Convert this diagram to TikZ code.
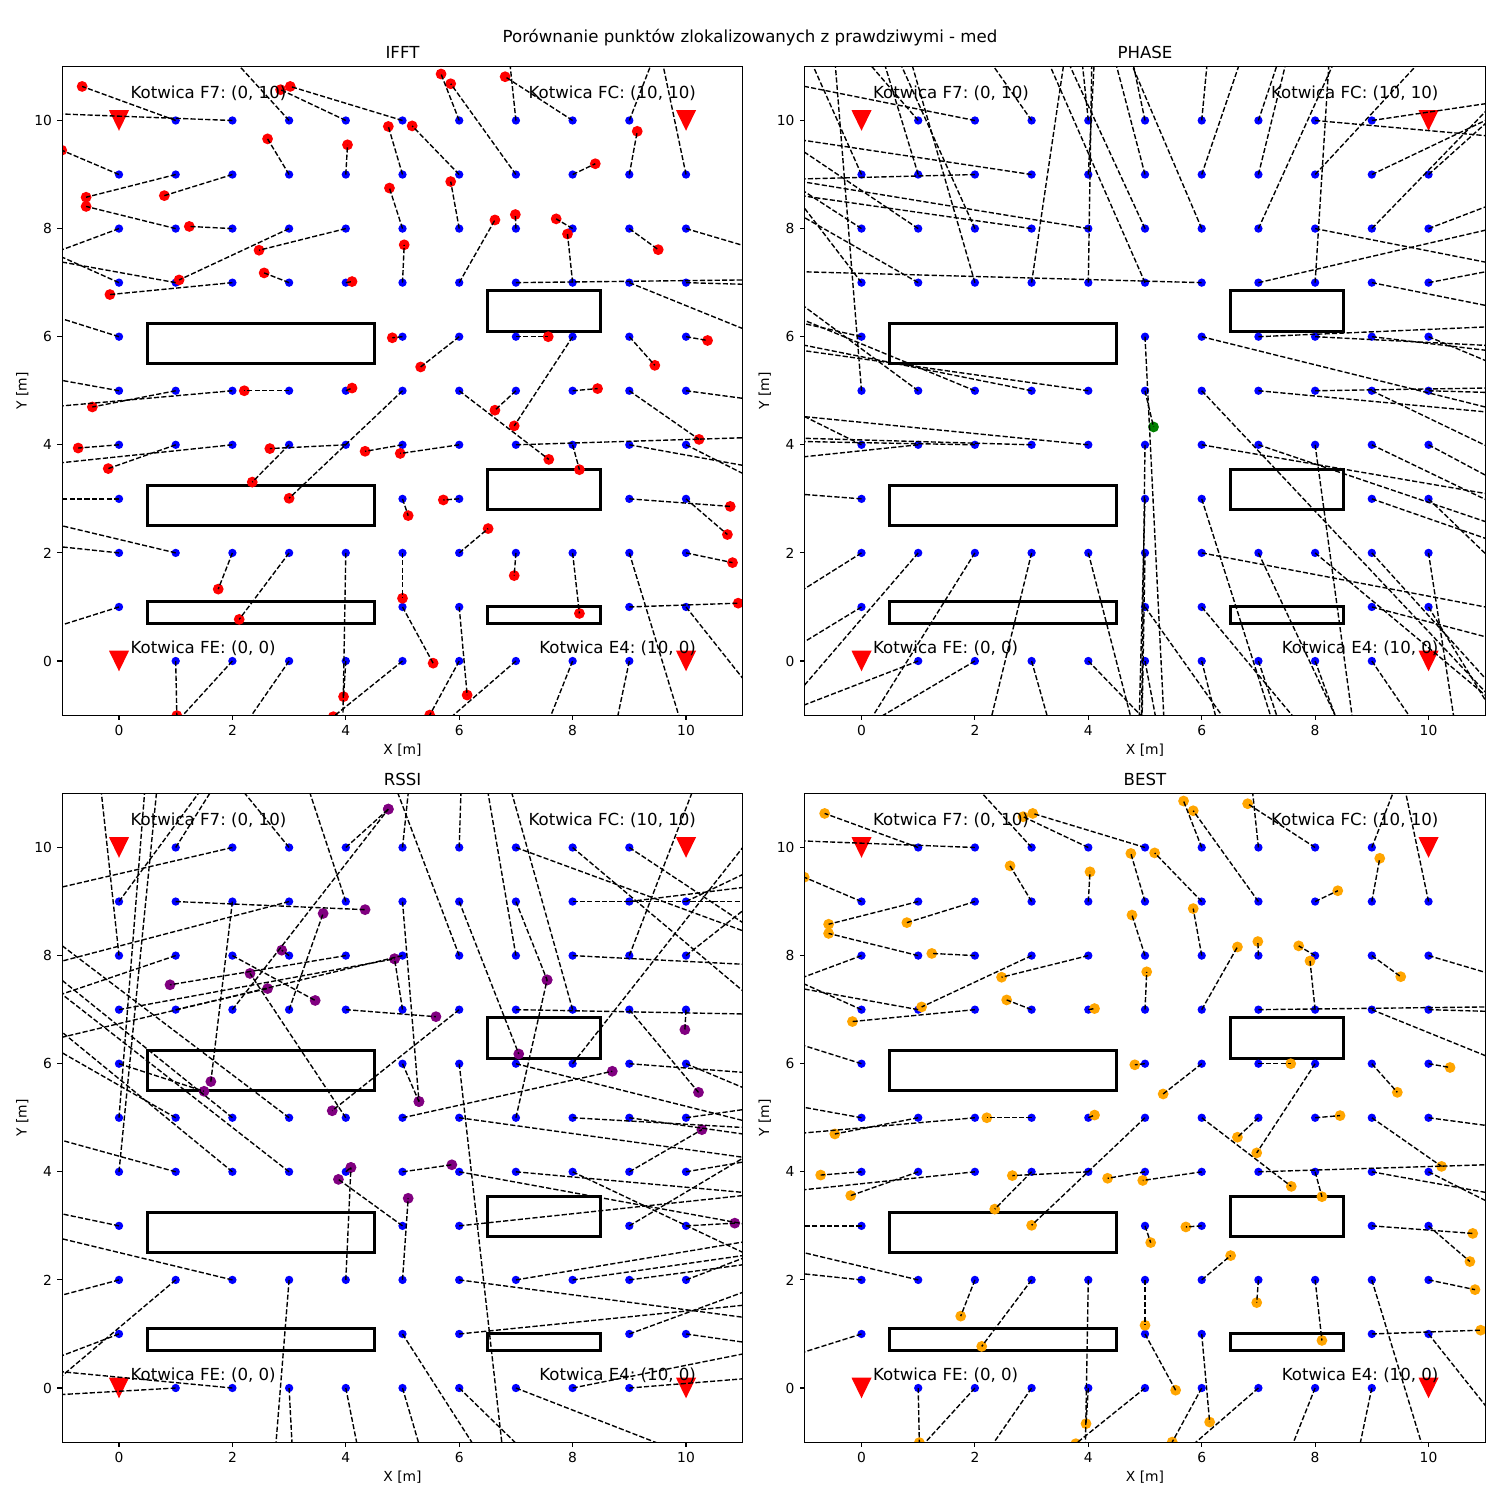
\documentclass[tikz,border=0pt]{standalone}
\usepackage{fontspec}
\setmainfont{DejaVu Sans}
\usepackage{xcolor}
\usepackage{tikz}
\usetikzlibrary{calc}
\frenchspacing

\definecolor{mplblue}{rgb}{0,0,1}
\definecolor{mplred}{rgb}{1,0,0}
\definecolor{mplgreen}{rgb}{0,0.5,0}
\definecolor{mplpurple}{rgb}{0.5,0,0.5}
\definecolor{mplorange}{rgb}{1,0.647,0}

%Data: true x / true y / estimated x / estimated y
\def\ifftin{1/10/-0.65/10.63, 4/10/2.85/10.57, 5/10/3.02/10.63, 6/10/5.68/10.86, 8/10/6.81/10.81,%
0/9/-1.01/9.45, 1/9/-0.58/8.58, 2/9/0.80/8.61, 3/9/2.62/9.66, 4/9/4.03/9.55, 5/9/4.75/9.89, 6/9/5.17/9.90, 7/9/5.85/10.68, 8/9/8.40/9.20, 9/9/9.14/9.80,%
1/8/-0.58/8.41, 2/8/1.24/8.04, 3/8/1.06/7.05, 4/8/2.47/7.60, 5/8/4.77/8.75, 6/8/5.85/8.87, 7/8/6.99/8.26, 8/8/7.71/8.18, 9/8/9.51/7.61,%
2/7/-0.16/6.78, 3/7/2.56/7.18, 4/7/4.11/7.02, 5/7/5.03/7.70, 6/7/6.63/8.16, 8/7/7.91/7.90,%
5/6/4.82/5.98, 6/6/5.32/5.44, 7/6/7.57/6.00, 8/6/6.97/4.35, 9/6/9.45/5.47, 10/6/10.38/5.93,%
1/5/-0.47/4.70, 3/5/2.21/5.00, 4/5/4.11/5.05, 5/5/3.00/3.01, 6/5/7.58/3.73, 7/5/6.63/4.64, 8/5/8.44/5.04, 9/5/10.23/4.10,%
0/4/-0.72/3.94, 1/4/-0.19/3.56, 3/4/2.35/3.31, 4/4/2.66/3.93, 5/4/4.34/3.88, 6/4/4.96/3.84, 8/4/8.12/3.54,%
5/3/5.10/2.69, 6/3/5.72/2.98, 9/3/10.78/2.86, 10/3/10.73/2.34,%
2/2/1.75/1.33, 3/2/2.12/0.77, 5/2/5.00/1.16, 6/2/6.51/2.45, 7/2/6.97/1.58, 8/2/8.12/0.88, 10/2/10.82/1.82,%
5/1/5.54/-0.04, 6/1/6.14/-0.63, 9/1/10.92/1.07,%
1/0/1.02/-1.01, 4/0/3.96/-0.66, 5/0/3.78/-1.03, 6/0/5.48/-1.00}
\def\ifftout{2/10/-1/10.12, 3/10/2.13/11, 7/10/6.9/11, 9/10/9.37/11, 10/9/9.6/11, 0/8/-1/7.61, 10/8/11/7.69,%
0/7/-1/7.47, 1/7/-1/7.38, 7/7/11/7.05, 9/7/11/6.15, 10/7/11/6.97, 0/6/-1/6.33, 0/5/-1/5.19, 2/5/-1/4.72, 10/5/11/4.86,%
2/4/-1/3.67, 7/4/11/4.13, 9/4/11/3.62, 10/4/11/3.47, 0/3/-1/3.0, 0/2/-1/2.11, 1/2/-1/2.50, 4/2/3.95/-1, 9/2/9.87/-1,%
0/1/-1/0.67, 10/1/11/-0.32, 2/0/1.13/-1, 3/0/2.34/-1, 7/0/5.9/-1, 8/0/7.62/-1, 9/0/8.8/-1}
\def\phasein{5/5/5.15/4.33}
\def\phaseout{1/10/0.18/11, 2/10/-1/10.63, 3/10/2.33/11, 4/10/3.9/11, 5/10/4.8/11, 6/10/6.09/11, 7/10/7.32/11, 8/10/11/9.72, 9/10/11/10.31,%
0/9/-0.85/11, 1/9/0.42/11, 2/9/-1/8.92, 3/9/-1/9.63, 4/9/4.1/11, 5/9/4.5/11, 6/9/6.65/11, 7/9/7.47/11, 8/9/9.77/11, 9/9/11/10.0, 10/9/11/9.94,%
0/8/-1/8.68, 1/8/-1/9.41, 2/8/0.71/11, 3/8/-1/8.6, 4/8/-1/8.86, 5/8/3.68/11, 6/8/4.78/11, 7/8/8.3/11, 8/8/11/7.38, 9/8/11/10.16, 10/8/11/8.40,%
0/7/-1/8.37, 1/7/-1/8.2, 2/7/0.9/11, 3/7/3.56/11, 4/7/4.06/11, 5/7/3.33/11, 6/7/-1/7.2, 7/7/11/7.97, 8/7/8.24/11, 9/7/11/6.58, 10/7/11/7.2,%
0/6/-1/6.24, 5/6/5.33/-1, 6/6/11/4.70, 7/6/11/6.18, 8/6/11/5.84, 9/6/11/5.75, 10/6/11/5.56,%
0/5/-0.46/11, 1/5/-1/6.55, 2/5/-1/6.3, 3/5/-1/5.84, 4/5/-1/5.74, 6/5/11/-0.57, 7/5/11/4.61, 8/5/11/5.05, 9/5/11/3.99, 10/5/11/4.97,%
0/4/-1/4.52, 1/4/-1/3.78, 2/4/-1/4.06, 3/4/-1/4.12, 4/4/-1/4.52, 5/4/4.94/-1, 6/4/11/3.1, 7/4/11/2.58, 8/4/8.65/-1, 9/4/11/2.99, 10/4/11/3.44,%
0/3/-1/3.08, 5/3/4.9/-1, 6/3/7.21/-1, 9/3/11/2.27, 10/3/11/1.99,%
0/2/-1/1.34, 1/2/-1/-0.44, 2/2/0.21/-1, 3/2/2.30/-1, 4/2/4.74/-1, 5/2/4.95/-1, 6/2/11/1.0, 7/2/8.35/-1, 8/2/11/-0.63, 9/2/11/-0.32, 10/2/10.44/-1,%
0/1/-1/0.36, 5/1/6.35/-1, 6/1/7.59/-1, 9/1/11/0.45, 10/1/11/-0.72,%
1/0/-1/-0.81, 2/0/0.39/-1, 3/0/3.27/-1, 4/0/4.92/-1, 5/0/5.18/-1, 6/0/6.24/-1, 7/0/7.32/-1, 8/0/8.35/-1, 9/0/9.65/-1}
\def\rssiin{4/10/4.75/10.71, 1/9/4.34/8.85, 2/9/1.62/5.67, 5/9/5.29/5.30, 6/9/7.05/6.18, 7/9/7.55/7.55, 2/8/3.46/7.17, 3/8/2.87/8.10,%
4/8/0.90/7.46, 0/7/4.86/7.94, 1/7/2.62/7.39, 2/7/4.75/10.71, 3/7/3.60/8.78, 4/7/5.59/6.87, 5/7/4.86/7.94, 6/7/3.76/5.13,%
9/7/10.22/5.47, 10/7/9.98/6.63, 0/6/1.50/5.49, 5/6/5.29/5.30, 4/5/2.31/7.67, 5/5/8.70/5.86, 7/5/7.55/7.55, 4/4/4.09/4.08,%
5/4/5.87/4.13, 9/4/10.28/4.78, 5/3/3.87/3.86, 10/3/10.86/3.05, 4/2/4.09/4.08, 5/2/5.10/3.51}
\def\rssiout{1/10/1.6/11, 2/10/-1/9.27, 3/10/2.22/11, 5/10/5.10/11, 6/10/6.03/11, 7/10/11/8.46, 8/10/11/7.35, 9/10/11/8.61,%
0/9/1.40/11, 3/9/-1/7.9, 4/9/3.37/11, 8/9/11/9.0, 9/9/11/9.26, 10/9/11/9.5,%
0/8/-0.31/11, 1/8/-1/7.29, 5/8/-1/6.49, 6/8/4.92/11, 7/8/6.51/11, 8/8/11/7.84, 9/8/10.1/11, 10/8/11/8.83,%
7/7/11/6.92, 8/7/6.93/11, 6/6/6.75/-1, 7/6/11/4.95, 8/6/11/10.0, 9/6/11/5.84, 10/6/11/5.56,%
0/5/0.45/11, 1/5/-1/6.2, 2/5/-1/7.54, 3/5/-1/8.18, 6/5/11/4.27, 8/5/11/4.82, 9/5/11/4.70, 10/5/11/5.15,%
0/4/0.66/11, 1/4/-1/4.58, 2/4/-1/6.58, 3/4/-1/7.28, 6/4/11/3.04, 7/4/11/3.62, 8/4/11/2.51, 10/4/11/4.18,%
0/3/-1/3.22, 6/3/11/3.56, 9/3/11/4.25,%
0/2/-1/1.72, 1/2/-1/0.23, 2/2/-1/2.76, 3/2/2.77/-1, 6/2/11/1.31, 7/2/11/2.70, 8/2/11/2.45, 9/2/11/2.28, 10/2/11/2.4,%
0/1/-1/0.60, 5/1/6.22/-1, 6/1/11/1.53, 9/1/11/1.77, 10/1/11/0.85,%
1/0/-1/-0.12, 2/0/-1/0.30, 3/0/3.05/-1, 4/0/4.19/-1, 5/0/5.28/-1, 6/0/6.98/-1, 7/0/9.45/-1, 8/0/11/0.63, 9/0/11/0.17}

%Panel: origin x / origin y (px) / title / points inside / points outside / colour
\newcommand{\drawpanel}[6]{%
  \begin{scope}[shift={(#1,#2)}, x=40.824bp, y=38.916bp]
    \begin{scope}
      \clip (-1,-1) rectangle (11,11);
      %Obstacles
      \foreach \xa/\ya/\xb/\yb in {0.5/5.5/4.5/6.25, 6.5/6.1/8.5/6.85, 0.5/2.5/4.5/3.25, 6.5/2.8/8.5/3.55, 0.5/0.7/4.5/1.1, 6.5/0.7/8.5/1.0}
        \draw[obstaclebox] (\xa,\ya) rectangle (\xb,\yb);
      %Points
      \foreach \tx/\ty/\ex/\ey in #4 {\fill[truedot] (\tx,\ty) circle[radius=3bp];}
      \foreach \tx/\ty/\ex/\ey in #5 {\fill[truedot] (\tx,\ty) circle[radius=3bp];}
      \foreach \tx/\ty/\ex/\ey in #4 {\fill[#6] (\ex,\ey) circle[radius=3.9bp];}
      \foreach \ax/\ay in {0/0, 0/10, 10/0, 10/10}
        \fill[mplred] (\ax,\ay) ++(-7.2bp,7.4bp) -- ++(14.4bp,0) -- ++(-7.2bp,-14.8bp) -- cycle;
      %Lines
      \foreach \tx/\ty/\ex/\ey in #4 {\draw[errline] (\tx,\ty) -- (\ex,\ey);}
      \foreach \tx/\ty/\ex/\ey in #5 {\draw[errline] (\tx,\ty) -- ($(\tx,\ty)!1.5!(\ex,\ey)$);}
    \end{scope}
    %Axes
    \draw[axisframe] (-1,-1) rectangle (11,11);
    \foreach \tk in {0,2,...,10} {
      \draw[axisframe] (\tk,-1) -- ++(0,-3.5bp) node[ticklabel, below=3.5bp] {\tk};
      \draw[axisframe] (-1,\tk) -- ++(-3.5bp,0) node[ticklabel, left=3.5bp] {\tk};
    }
    \node[axistext] at ([yshift=-25bp]5,-1) {X [m]};
    \node[axistext, rotate=90] at ([xshift=-28.8bp]-1,5) {Y [m]};
    \node[titletext, anchor=base] at ([yshift=6bp]5,11) {#3};
    %Anchor labels
    \node[anchortext, anchor=west] at (0.2,10.5) {Kotwica F7: (0, 10)};
    \node[anchortext, anchor=east] at (10.18,10.5) {Kotwica FC: (10, 10)};
    \node[anchortext, anchor=west] at (0.2,0.24) {Kotwica FE: (0, 0)};
    \node[anchortext, anchor=east] at (10.18,0.24) {Kotwica E4: (10, 0)};
  \end{scope}}

\begin{document}
\begin{tikzpicture}[x=0.72bp, y=-0.72bp,
        truedot/.style={mplblue},
        errline/.style={black, line width=1bp, dash pattern=on 3.7bp off 1.6bp},
        obstaclebox/.style={draw=black, line width=2.2bp},
        axisframe/.style={black, line width=0.8bp},
        ticklabel/.style={inner sep=0pt, font=\fontsize{10}{12}\selectfont},
        axistext/.style={inner sep=0pt, font=\fontsize{10}{12}\selectfont},
        titletext/.style={inner sep=0pt, font=\fontsize{12}{14}\selectfont},
        anchortext/.style={inner sep=0pt, font=\fontsize{12}{14}\selectfont},
    ]
    \useasboundingbox[fill=white] (0,0) rectangle (1500,1500);
    %Title
    \node[titletext] (suptitle) at (750,38) {Porównanie punktów zlokalizowanych z prawdziwymi - med};
    %Panels
    \drawpanel{119}{661}{IFFT}{\ifftin}{\ifftout}{mplred}
    \drawpanel{861.5}{661}{PHASE}{\phasein}{\phaseout}{mplgreen}
    \drawpanel{119}{1388}{RSSI}{\rssiin}{\rssiout}{mplpurple}
    \drawpanel{861.5}{1388}{BEST}{\ifftin}{\ifftout}{mplorange}
\end{tikzpicture}
\end{document}
